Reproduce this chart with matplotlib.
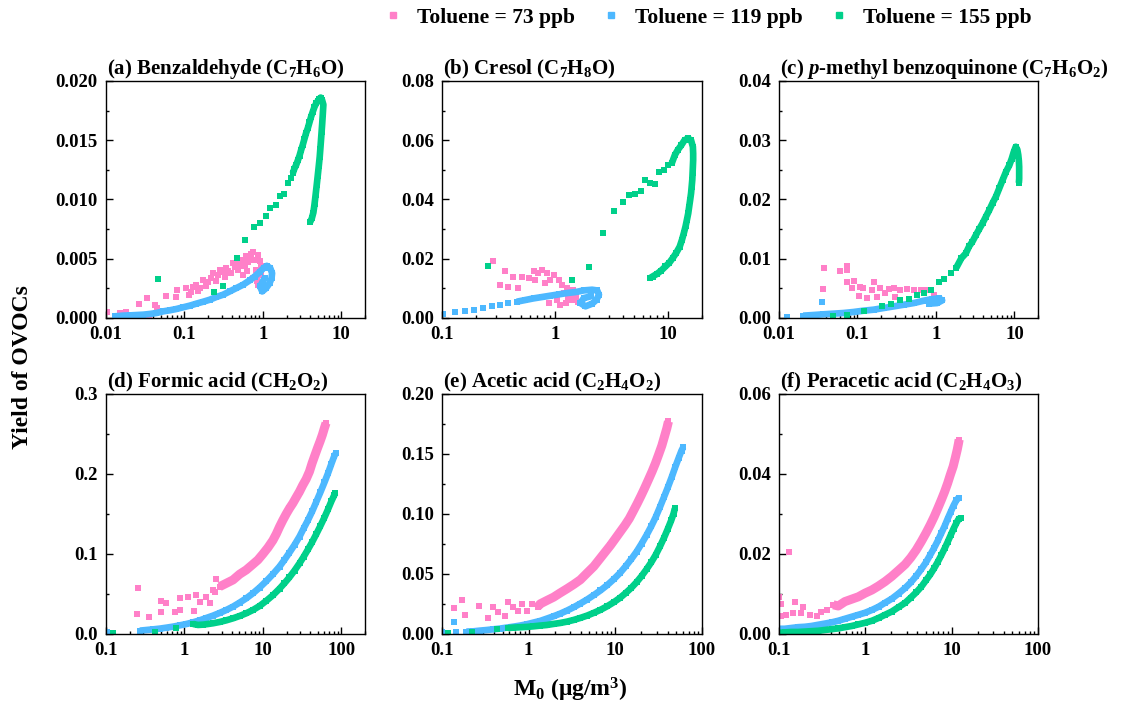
import matplotlib
matplotlib.use("Agg")
import matplotlib.pyplot as plt
from matplotlib.lines import Line2D
from matplotlib.ticker import (MultipleLocator, FormatStrFormatter, LogLocator,
                               FixedLocator, FuncFormatter, NullFormatter)

plt.rcParams.update({
    "font.family": ["Liberation Serif", "DejaVu Serif"],
    "font.weight": "bold",
    "mathtext.fontset": "custom",
    "mathtext.rm": "Liberation Serif:bold",
    "mathtext.it": "Liberation Serif:style=italic:weight=bold",
    "mathtext.bf": "Liberation Serif:bold",
    "axes.linewidth": 1.0,
})

PINK = "#FF80C8"
BLUE = "#4DB8FF"
GREEN = "#00D08A"

SERIES_LABELS = ["Toluene = 73 ppb", "Toluene = 119 ppb", "Toluene = 155 ppb"]

# (M0 in ug/m3, yield) pairs.  *_PTS are isolated samples, *_RUN are the
# densely sampled stretches of each time series, listed in time order.
A_PINK_PTS = [(0.0102, 0.00048), (0.0151, 0.00042), (0.0179, 0.00048), (0.0265, 0.00118), (0.0335, 0.00168),
              (0.0356, 0.0001), (0.042, 0.00112), (0.045, 0.00084), (0.058, 0.00182), (0.079, 0.00177),
              (0.081, 0.00238), (0.106, 0.00252), (0.115, 0.00196), (0.142, 0.0028), (0.149, 0.00224),
              (0.172, 0.00323), (0.19, 0.00266), (0.231, 0.00379), (0.255, 0.00309), (0.281, 0.00407),
              (0.326, 0.00345), (0.342, 0.00421), (0.396, 0.00379), (0.415, 0.00463), (0.481, 0.00407),
              (0.505, 0.00491), (0.585, 0.00449), (0.614, 0.00519), (0.711, 0.00491), (0.746, 0.00561),
              (0.863, 0.00533), (0.908, 0.00477), (0.823, 0.00407), (0.746, 0.00337), (0.863, 0.0028),
              (0.678, 0.00323), (0.557, 0.00365), (0.12, 0.0022), (0.13, 0.0026), (0.16, 0.0025),
              (0.20, 0.0030), (0.22, 0.0034), (0.27, 0.0036), (0.30, 0.0039), (0.36, 0.0040),
              (0.44, 0.0043), (0.53, 0.0044), (0.65, 0.0047), (0.80, 0.0049), (0.95, 0.0044),
              (0.95, 0.0036), (0.85, 0.0031), (0.62, 0.0040), (0.70, 0.0054), (0.55, 0.0049),
              (0.47, 0.0046)]
A_PINK_RUN = []
A_BLUE_PTS = []
A_BLUE_RUN = [(0.013, 0.00014), (0.0166, 0.0002), (0.0202, 0.00022), (0.0245, 0.00025), (0.0299, 0.00028),
              (0.0362, 0.00034), (0.044, 0.00042), (0.0536, 0.00056), (0.0651, 0.00065), (0.079, 0.00076),
              (0.096, 0.0009), (0.117, 0.00104), (0.142, 0.00121), (0.173, 0.00137), (0.21, 0.00154),
              (0.255, 0.00177), (0.31, 0.00196), (0.377, 0.00224), (0.458, 0.00252), (0.557, 0.0028),
              (0.677, 0.00317), (0.784, 0.0035), (0.908, 0.00387), (1.02, 0.00421), (1.12, 0.0044),
              (1.24, 0.00421), (1.31, 0.00379), (1.29, 0.00337), (1.22, 0.00295), (1.10, 0.00252),
              (0.98, 0.00224), (0.92, 0.00266), (1.05, 0.00337)]
A_GREEN_PTS = [(0.046, 0.0033), (0.236, 0.0022), (0.31, 0.0027), (0.47, 0.0051), (0.60, 0.0066),
               (0.77, 0.0077), (0.91, 0.0080), (1.10, 0.0086), (1.22, 0.0093), (1.48, 0.0095),
               (1.66, 0.0103), (1.88, 0.0105), (2.08, 0.0114), (2.25, 0.0118)]
A_GREEN_RUN = [(2.40, 0.0122), (2.52, 0.0126), (2.65, 0.0129), (2.79, 0.0133), (2.93, 0.0137),
               (3.08, 0.0142), (3.22, 0.0146), (3.38, 0.0151), (3.55, 0.0156), (3.73, 0.0160),
               (3.92, 0.0165), (4.12, 0.0170), (4.32, 0.0174), (4.54, 0.0178), (4.76, 0.0181),
               (5.00, 0.0183), (5.25, 0.0185), (5.45, 0.0186), (5.67, 0.0184), (5.90, 0.0180),
               (5.80, 0.0172), (5.70, 0.0164), (5.60, 0.0157), (5.50, 0.0150), (5.40, 0.0143),
               (5.30, 0.0136), (5.15, 0.0128), (5.00, 0.0120), (4.85, 0.0112), (4.70, 0.0104),
               (4.55, 0.0096), (4.40, 0.0089), (4.20, 0.0084), (4.00, 0.0081)]

B_PINK_PTS = [(0.281, 0.0194), (0.361, 0.0159), (0.326, 0.0112), (0.387, 0.0104), (0.429, 0.0138),
              (0.475, 0.0101), (0.508, 0.014), (0.583, 0.0135), (0.655, 0.0157), (0.714, 0.0151),
              (0.766, 0.0163), (0.85, 0.0151), (0.908, 0.0129), (0.973, 0.0146), (1.08, 0.0129),
              (1.15, 0.0112), (1.28, 0.0101), (1.37, 0.0079), (1.24, 0.0050), (1.11, 0.0045),
              (0.879, 0.0050), (1.04, 0.0062), (1.52, 0.0067), (0.81, 0.0118), (0.67, 0.0129),
              (1.20, 0.0085), (1.45, 0.0095), (1.30, 0.0065), (1.40, 0.0060), (1.60, 0.0055)]
B_PINK_RUN = []
B_BLUE_PTS = [(0.102, 0.00146), (0.130, 0.0019), (0.159, 0.00224), (0.191, 0.0028), (0.232, 0.00337),
              (0.275, 0.00393), (0.326, 0.00438), (0.387, 0.00494)]
B_BLUE_RUN = [(0.459, 0.0055), (0.545, 0.00606), (0.646, 0.00662), (0.766, 0.00707), (0.908, 0.00752),
              (1.08, 0.00797), (1.28, 0.00842), (1.52, 0.00875), (1.80, 0.00931), (2.13, 0.00954),
              (2.36, 0.0093), (2.45, 0.00785), (2.33, 0.00617), (2.13, 0.00482), (1.86, 0.00393),
              (1.68, 0.00505), (1.80, 0.00673), (2.07, 0.0073)]
B_GREEN_PTS = [(0.257, 0.0176), (1.40, 0.0129), (2.0, 0.0172), (2.67, 0.0288), (3.32, 0.0362),
               (4.0, 0.039), (4.52, 0.0415), (5.12, 0.0418), (5.75, 0.043), (6.29, 0.0466),
               (6.96, 0.0454), (7.66, 0.0452), (8.37, 0.0494), (9.15, 0.0499), (9.93, 0.0516)]
B_GREEN_RUN = [(10.8, 0.0522), (11.5, 0.055), (12.2, 0.0567), (13.1, 0.0583), (14.0, 0.060),
               (15.0, 0.0606), (16.0, 0.060), (16.6, 0.0578), (16.7, 0.0555), (16.7, 0.0533),
               (16.6, 0.051), (16.5, 0.0488), (16.4, 0.0466), (16.2, 0.0443), (16.0, 0.0421),
               (15.7, 0.0398), (15.4, 0.0376), (15.1, 0.0353), (14.7, 0.0331), (14.3, 0.0309),
               (13.8, 0.0286), (13.3, 0.0264), (12.7, 0.0241), (11.8, 0.0219), (11.0, 0.0202),
               (10.3, 0.0187), (9.5, 0.0174), (8.7, 0.016), (8.0, 0.0149), (7.3, 0.014), (6.9, 0.0134)]

C_PINK_PTS = [(0.0374, 0.0084), (0.0367, 0.0049), (0.060, 0.0079), (0.073, 0.0081), (0.074, 0.0088),
              (0.073, 0.006), (0.0906, 0.0063), (0.0845, 0.005), (0.108, 0.0053), (0.119, 0.005),
              (0.103, 0.00365), (0.132, 0.00337), (0.164, 0.006), (0.153, 0.0048), (0.195, 0.005),
              (0.227, 0.0042), (0.25, 0.0049), (0.29, 0.005), (0.352, 0.0047), (0.429, 0.0049),
              (0.522, 0.0047), (0.636, 0.0048), (0.774, 0.0047), (0.942, 0.0039), (0.304, 0.0036),
              (0.177, 0.0036)]
C_PINK_RUN = []
C_BLUE_PTS = [(0.0127, 0.00017), (0.0349, 0.0027)]
C_BLUE_RUN = [(0.0203, 0.00039), (0.0273, 0.0005), (0.0367, 0.00062), (0.0492, 0.00073), (0.0662, 0.00084),
              (0.0889, 0.00101), (0.119, 0.00123), (0.160, 0.0014), (0.215, 0.00168), (0.29, 0.00196),
              (0.389, 0.00224), (0.522, 0.00252), (0.70, 0.00292), (0.898, 0.0032), (1.09, 0.00331),
              (1.2, 0.00297), (1.04, 0.00252), (0.81, 0.00241)]
C_GREEN_PTS = [(0.049, 0.0004), (0.0745, 0.00056), (0.122, 0.0011), (0.205, 0.0021), (0.267, 0.0024),
               (0.352, 0.0031), (0.451, 0.0032), (0.577, 0.0038), (0.702, 0.0042), (0.871, 0.0047),
               (1.09, 0.006), (1.27, 0.0065), (1.54, 0.0076)]
C_GREEN_RUN = [(1.82, 0.0085), (2.11, 0.0101), (2.40, 0.0109), (2.65, 0.0121), (2.92, 0.0129),
               (3.23, 0.014), (3.56, 0.015), (3.93, 0.016), (4.33, 0.0171), (4.78, 0.0182),
               (5.27, 0.0194), (5.82, 0.0205), (6.42, 0.0219), (7.08, 0.0233), (7.82, 0.0247),
               (8.63, 0.0258), (9.25, 0.0269), (9.8, 0.028), (10.4, 0.0289), (10.9, 0.0284),
               (11.2, 0.0275), (11.4, 0.0265), (11.5, 0.0255), (11.5, 0.0245), (11.5, 0.0235),
               (11.4, 0.0228)]

D_PINK_PTS = [(0.258, 0.0572), (0.25, 0.025), (0.356, 0.021), (0.496, 0.0417), (0.51, 0.028),
              (0.58, 0.0384), (0.753, 0.028), (0.873, 0.0446), (0.89, 0.030), (1.11, 0.0467),
              (1.32, 0.0288), (1.42, 0.0488), (1.57, 0.0405), (1.9, 0.0467), (2.1, 0.0384),
              (2.43, 0.053), (2.55, 0.0684), (2.31, 0.055)]
D_PINK_RUN = [(2.81, 0.0592), (3.42, 0.0634), (4.16, 0.0676), (5.05, 0.0747), (6.14, 0.0801),
              (7.47, 0.0872), (8.64, 0.0926), (10.0, 0.100), (11.6, 0.108), (13.4, 0.117),
              (14.8, 0.125), (16.3, 0.134), (17.9, 0.142), (19.8, 0.150), (21.8, 0.157),
              (24.1, 0.1635), (26.5, 0.1706), (29.3, 0.178), (32.2, 0.186), (35.6, 0.1936),
              (39.2, 0.203), (42.4, 0.2136), (45.8, 0.2228), (49.5, 0.232), (53.5, 0.2407),
              (57.3, 0.249), (60.8, 0.2574), (63.8, 0.2637)]
D_BLUE_PTS = [(0.102, 0.002)]
D_BLUE_RUN = [(0.27, 0.0042), (0.329, 0.005), (0.40, 0.0058), (0.485, 0.0067), (0.59, 0.0079),
              (0.718, 0.0092), (0.873, 0.0108), (1.06, 0.0125), (1.29, 0.0146), (1.57, 0.0171),
              (1.90, 0.020), (2.31, 0.0229), (2.81, 0.0263), (3.42, 0.030), (4.16, 0.0342),
              (5.05, 0.0392), (6.14, 0.0446), (7.47, 0.0509), (9.07, 0.058), (11.0, 0.0659),
              (13.4, 0.0747), (16.3, 0.0843), (18.8, 0.0926), (21.8, 0.1018), (25.3, 0.1114),
              (29.3, 0.1218), (33.2, 0.1323), (37.7, 0.1427), (42.8, 0.154), (48.1, 0.1656),
              (54.1, 0.1773), (60.8, 0.1894), (67.7, 0.2011), (74.7, 0.2128), (81.5, 0.2228),
              (85.5, 0.2261)]
D_GREEN_PTS = [(0.122, 0.0008), (0.42, 0.003), (0.79, 0.0079)]
D_GREEN_RUN = [(1.29, 0.0125), (1.49, 0.0113), (1.73, 0.0117), (2.0, 0.0125), (2.31, 0.0134),
               (2.81, 0.015), (3.42, 0.0171), (4.16, 0.0196), (5.05, 0.0225), (6.14, 0.0259),
               (7.47, 0.030), (9.07, 0.035), (11.0, 0.0413), (13.4, 0.0484), (16.3, 0.0567),
               (18.8, 0.0634), (21.8, 0.0709), (25.3, 0.0793), (29.3, 0.0884), (33.2, 0.0968),
               (37.7, 0.106), (42.8, 0.1156), (48.1, 0.1252), (54.1, 0.1352), (60.8, 0.1456),
               (67.7, 0.156), (74.7, 0.166), (81.5, 0.174), (84.0, 0.176)]

E_PINK_PTS = [(0.137, 0.0218), (0.168, 0.0284), (0.183, 0.0162), (0.188, 0.0014), (0.269, 0.0237),
              (0.341, 0.0134), (0.39, 0.0229), (0.445, 0.0181), (0.533, 0.0153), (0.582, 0.0265),
              (0.665, 0.0229), (0.76, 0.0195), (0.83, 0.0251), (0.95, 0.0195), (1.09, 0.0251)]
E_PINK_RUN = [(1.28, 0.0229), (1.36, 0.0251), (1.62, 0.0279), (1.94, 0.0307), (2.32, 0.0343),
              (2.77, 0.0377), (3.31, 0.0413), (3.95, 0.0452), (4.72, 0.0508), (5.64, 0.0563),
              (6.73, 0.0633), (7.69, 0.0686), (8.79, 0.0739), (10.0, 0.0795), (11.5, 0.0856),
              (12.9, 0.0906), (14.5, 0.0962), (16.1, 0.1024), (17.9, 0.1088), (19.8, 0.1152),
              (21.8, 0.1216), (24.0, 0.1283), (26.5, 0.1353), (29.0, 0.1422), (31.7, 0.1498),
              (34.4, 0.157), (36.9, 0.1646), (39.3, 0.1715), (41.0, 0.1771)]
E_BLUE_PTS = [(0.101, 0.0014), (0.137, 0.0098), (0.147, 0.0014)]
E_BLUE_RUN = [(0.191, 0.002), (0.229, 0.0022), (0.273, 0.0028), (0.327, 0.0033), (0.39, 0.0039),
              (0.466, 0.0045), (0.557, 0.0053), (0.666, 0.0061), (0.796, 0.007), (0.951, 0.0081),
              (1.135, 0.0095), (1.36, 0.0109), (1.62, 0.0128), (1.94, 0.0148), (2.32, 0.017),
              (2.77, 0.0195), (3.31, 0.0223), (3.95, 0.0254), (4.72, 0.0287), (5.64, 0.0324),
              (6.73, 0.0363), (8.05, 0.0407), (9.61, 0.0457), (11.3, 0.0508), (13.1, 0.0563),
              (15.3, 0.0625), (17.6, 0.0686), (20.1, 0.0753), (23.0, 0.0826), (26.1, 0.0901),
              (29.3, 0.0976), (32.8, 0.106), (36.5, 0.1143), (40.6, 0.1227), (44.9, 0.1311),
              (49.0, 0.1389), (53.6, 0.1464), (58.0, 0.1528), (60.7, 0.1556)]
E_GREEN_PTS = [(0.117, 0.0006), (0.219, 0.002), (0.427, 0.0042)]
E_GREEN_RUN = [(0.582, 0.005), (0.666, 0.0053), (0.796, 0.0056), (0.951, 0.0059), (1.135, 0.0064),
               (1.36, 0.007), (1.62, 0.0075), (1.94, 0.0084), (2.32, 0.0092), (2.77, 0.0103),
               (3.31, 0.0117), (3.95, 0.0134), (4.72, 0.0153), (5.64, 0.0176), (6.73, 0.0201),
               (8.05, 0.0231), (9.61, 0.0265), (11.3, 0.0301), (13.1, 0.034), (15.3, 0.0385),
               (17.6, 0.0432), (20.1, 0.0483), (23.0, 0.0541), (26.1, 0.060), (29.3, 0.0661),
               (32.8, 0.0731), (36.5, 0.0803), (40.3, 0.0876), (44.2, 0.0948), (47.0, 0.1004),
               (48.6, 0.1046)]

F_PINK_PTS = [(0.1, 0.0093), (0.106, 0.0075), (0.131, 0.0204), (0.106, 0.0045), (0.122, 0.0048),
              (0.152, 0.0081), (0.145, 0.0053), (0.182, 0.0052), (0.19, 0.0068), (0.227, 0.0048),
              (0.272, 0.0045), (0.31, 0.0056), (0.355, 0.006)]
F_PINK_RUN = [(0.425, 0.0073), (0.485, 0.007), (0.58, 0.0081), (0.694, 0.0087), (0.83, 0.0093),
              (0.99, 0.0102), (1.19, 0.011), (1.42, 0.012), (1.69, 0.0131), (2.02, 0.0144),
              (2.42, 0.0159), (2.89, 0.0174), (3.36, 0.0191), (3.88, 0.021), (4.44, 0.0231),
              (5.03, 0.0252), (5.65, 0.0273), (6.29, 0.0294), (6.93, 0.0315), (7.58, 0.0335),
              (8.29, 0.0356), (8.98, 0.0377), (9.64, 0.0398), (10.4, 0.0419), (11.0, 0.044),
              (11.6, 0.0461), (12.0, 0.0477), (12.2, 0.0486)]
F_BLUE_PTS = []
F_BLUE_RUN = [(0.1, 0.0013), (0.116, 0.0013), (0.139, 0.0015), (0.166, 0.0017), (0.199, 0.0018),
              (0.238, 0.002), (0.284, 0.0023), (0.34, 0.0026), (0.406, 0.0029), (0.485, 0.0033),
              (0.58, 0.0038), (0.694, 0.0043), (0.83, 0.0048), (0.99, 0.0053), (1.19, 0.006),
              (1.42, 0.0068), (1.69, 0.0078), (2.02, 0.0088), (2.42, 0.0101), (2.89, 0.0115),
              (3.36, 0.0129), (3.88, 0.0145), (4.44, 0.0162), (5.03, 0.0179), (5.65, 0.0198),
              (6.29, 0.0216), (6.93, 0.0234), (7.58, 0.0252), (8.29, 0.027), (8.98, 0.0288),
              (9.73, 0.0305), (10.5, 0.0321), (11.3, 0.0334), (12.0, 0.034)]
F_GREEN_PTS = []
F_GREEN_RUN = [(0.1, 0.0003), (0.116, 0.0004), (0.139, 0.0005), (0.166, 0.0005), (0.199, 0.0006),
               (0.238, 0.0007), (0.284, 0.0008), (0.34, 0.001), (0.406, 0.0012), (0.485, 0.0014),
               (0.58, 0.0017), (0.694, 0.002), (0.83, 0.0024), (0.99, 0.0028), (1.19, 0.0033),
               (1.42, 0.004), (1.69, 0.0048), (2.02, 0.0056), (2.42, 0.0067), (2.89, 0.0078),
               (3.36, 0.0091), (3.88, 0.0104), (4.44, 0.0118), (5.03, 0.0134), (5.65, 0.0149),
               (6.29, 0.0165), (6.93, 0.0181), (7.58, 0.0197), (8.29, 0.0214), (8.98, 0.023),
               (9.73, 0.0247), (10.5, 0.0263), (11.3, 0.0277), (12.0, 0.0287), (12.7, 0.0291)]

TITLES = [
    "(a) Benzaldehyde (C$_7$H$_6$O)",
    "(b) Cresol (C$_7$H$_8$O)",
    "(c) $\\mathit{p}$-methyl benzoquinone (C$_7$H$_6$O$_2$)",
    "(d) Formic acid (CH$_2$O$_2$)",
    "(e) Acetic acid (C$_2$H$_4$O$_2$)",
    "(f) Peracetic acid (C$_2$H$_4$O$_3$)",
]
X_LIMITS = [(0.01, 20), (0.1, 20), (0.01, 20), (0.1, 200), (0.1, 100), (0.1, 100)]
X_TICKS = [[0.01, 0.1, 1, 10], [0.1, 1, 10], [0.01, 0.1, 1, 10],
           [0.1, 1, 10, 100], [0.1, 1, 10, 100], [0.1, 1, 10, 100]]
Y_LIMITS = [(0, 0.020), (0, 0.08), (0, 0.04), (0, 0.3), (0, 0.20), (0, 0.06)]
Y_STEPS = [0.005, 0.02, 0.01, 0.1, 0.05, 0.02]
Y_FORMATS = ["%.3f", "%.2f", "%.2f", "%.1f", "%.2f", "%.2f"]
PANEL_DATA = [
    ((A_PINK_PTS, A_PINK_RUN), (A_BLUE_PTS, A_BLUE_RUN), (A_GREEN_PTS, A_GREEN_RUN)),
    ((B_PINK_PTS, B_PINK_RUN), (B_BLUE_PTS, B_BLUE_RUN), (B_GREEN_PTS, B_GREEN_RUN)),
    ((C_PINK_PTS, C_PINK_RUN), (C_BLUE_PTS, C_BLUE_RUN), (C_GREEN_PTS, C_GREEN_RUN)),
    ((D_PINK_PTS, D_PINK_RUN), (D_BLUE_PTS, D_BLUE_RUN), (D_GREEN_PTS, D_GREEN_RUN)),
    ((E_PINK_PTS, E_PINK_RUN), (E_BLUE_PTS, E_BLUE_RUN), (E_GREEN_PTS, E_GREEN_RUN)),
    ((F_PINK_PTS, F_PINK_RUN), (F_BLUE_PTS, F_BLUE_RUN), (F_GREEN_PTS, F_GREEN_RUN)),
]

fig = plt.figure(figsize=(11.31, 7.09), dpi=100)

col_left = [0.0937, 0.3908, 0.6888]
col_width = [0.229, 0.2299, 0.229]
row_bottom = [0.5515, 0.1058]
row_height = [0.3343, 0.3385]

colors = [PINK, BLUE, GREEN]
run_widths = [6.5, 4.8, 4.8]
MARKER_PTS = 4.7

for i in range(6):
    r, c = divmod(i, 3)
    ax = fig.add_axes([col_left[c], row_bottom[r], col_width[c], row_height[r]])
    for (pts, run), color, lw in zip(PANEL_DATA[i], colors, run_widths):
        if run:
            ax.plot([p[0] for p in run], [p[1] for p in run], color=color, lw=lw,
                    solid_joinstyle="round", solid_capstyle="butt", zorder=2)
        allp = pts + run
        ax.plot([p[0] for p in allp], [p[1] for p in allp], linestyle="none", marker="s",
                markersize=MARKER_PTS, markeredgewidth=0, color=color, zorder=2)
    ax.set_xscale("log")
    ax.set_xlim(*X_LIMITS[i])
    ax.set_ylim(*Y_LIMITS[i])
    ax.xaxis.set_major_locator(FixedLocator(X_TICKS[i]))
    ax.xaxis.set_major_formatter(FuncFormatter(lambda v, pos: "%g" % v))
    ax.xaxis.set_minor_locator(LogLocator(base=10, subs=range(2, 10), numticks=30))
    ax.xaxis.set_minor_formatter(NullFormatter())
    ax.yaxis.set_major_locator(MultipleLocator(Y_STEPS[i]))
    ax.yaxis.set_minor_locator(MultipleLocator(Y_STEPS[i] / 2))
    ax.yaxis.set_major_formatter(FormatStrFormatter(Y_FORMATS[i]))
    ax.tick_params(which="both", direction="in", top=False, right=False,
                   labelsize=13.5, width=1.0)
    ax.tick_params(which="major", length=5, pad=6)
    ax.tick_params(which="minor", length=2.5)
    for lab in ax.get_xticklabels() + ax.get_yticklabels():
        lab.set_fontweight("bold")
    ax.set_title(TITLES[i], loc="left", fontsize=15, fontweight="bold", pad=5, x=0.005)

handles = [Line2D([], [], marker="s", linestyle="", color=col, markersize=5) for col in colors]
fig.legend(handles, SERIES_LABELS, ncol=3, loc="center", bbox_to_anchor=(0.625, 0.975),
           frameon=False, prop={"size": 15.5, "weight": "bold"}, handletextpad=0.6,
           columnspacing=1.2, handlelength=1.0)

fig.text(0.02, 0.482, "Yield of OVOCs", rotation=90, ha="center", va="center",
         fontsize=17, fontweight="bold")
fig.text(0.504, 0.027, "M$_0$ (μg/m$^3$)", ha="center", va="center",
         fontsize=17, fontweight="bold")

fig.savefig("out.png", dpi=100)
